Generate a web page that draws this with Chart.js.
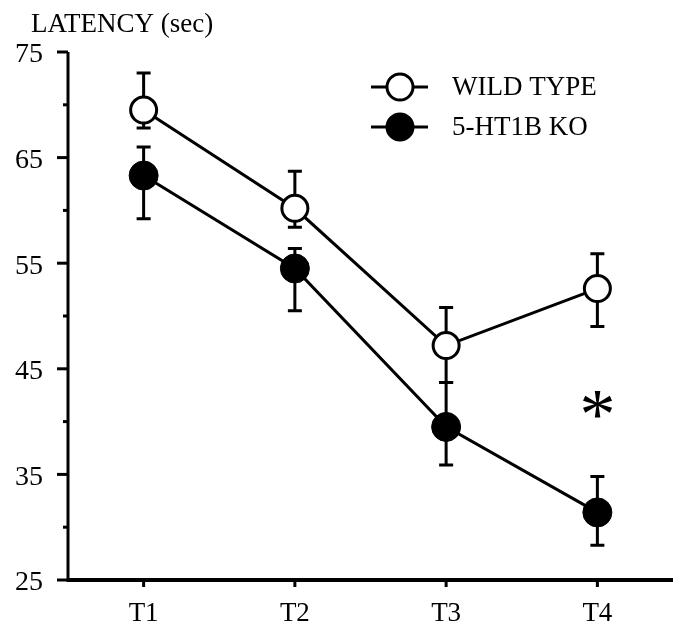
<!DOCTYPE html>
<html>
<head>
<meta charset="utf-8">
<script src="https://cdn.jsdelivr.net/npm/chart.js@4"></script>
<style>
  html, body { margin: 0; padding: 0; background: #fff; overflow: hidden; }
  canvas { display: block; }
</style>
</head>
<body>
<canvas id="latencyChart" width="673" height="625"></canvas>
<script>
// data
const categories = ['T1', 'T2', 'T3', 'T4'];
const wildType   = [69.5, 60.2, 47.2, 52.6];
const wildTypeHi = [73.0, 63.7, 50.8, 55.9];
const wildTypeLo = [67.8, 58.4, 43.7, 49.0];
const knockout   = [63.3, 54.5, 39.5, 31.4];
const knockoutHi = [66.0, 56.4, 43.7, 34.8];
const knockoutLo = [59.2, 50.5, 35.9, 28.3];
const yMajorTicks = [25, 35, 45, 55, 65, 75];
const yMinorTicks = [30, 40, 50, 60, 70];
const starCategory = 'T4';
const starValue = 41.6;

const FONT = "'Liberation Serif', 'DejaVu Serif', serif";

// draws the axes, error bars, legend, title and the asterisk
const figurePlugin = {
    id: 'figure',
    beforeDatasetsDraw(chart) {
        const ctx = chart.ctx;
        const x = chart.scales.x;
        const y = chart.scales.y;
        const area = chart.chartArea;

        ctx.save();
        ctx.strokeStyle = '#000';
        ctx.fillStyle = '#000';

        // y axis
        ctx.lineWidth = 3;
        ctx.beginPath();
        ctx.moveTo(area.left, y.getPixelForValue(75));
        ctx.lineTo(area.left, y.getPixelForValue(25) + 2);
        ctx.stroke();
        yMajorTicks.forEach(v => {
            const py = y.getPixelForValue(v);
            ctx.beginPath();
            ctx.moveTo(area.left - 11, py);
            ctx.lineTo(area.left, py);
            ctx.stroke();
        });
        yMinorTicks.forEach(v => {
            const py = y.getPixelForValue(v);
            ctx.beginPath();
            ctx.moveTo(area.left - 5, py);
            ctx.lineTo(area.left, py);
            ctx.stroke();
        });
        ctx.font = '28px ' + FONT;
        ctx.textAlign = 'right';
        ctx.textBaseline = 'middle';
        yMajorTicks.forEach(v => {
            ctx.fillText(String(v), area.left - 25, y.getPixelForValue(v) + 3);
        });

        // x axis
        const base = y.getPixelForValue(25);
        ctx.lineWidth = 4;
        ctx.beginPath();
        ctx.moveTo(area.left - 1, base);
        ctx.lineTo(chart.width, base);
        ctx.stroke();
        ctx.lineWidth = 3;
        ctx.font = '27px ' + FONT;
        ctx.textAlign = 'center';
        ctx.textBaseline = 'alphabetic';
        categories.forEach((c, i) => {
            const px = x.getPixelForValue(i);
            ctx.beginPath();
            ctx.moveTo(px, base);
            ctx.lineTo(px, base + 7);
            ctx.stroke();
            ctx.fillText(c, px, base + 41);
        });

        // error bars (under the markers)
        const bars = [[wildTypeHi, wildTypeLo], [knockoutHi, knockoutLo]];
        ctx.lineWidth = 3;
        bars.forEach(([hi, lo]) => {
            categories.forEach((c, i) => {
                const px = x.getPixelForValue(i);
                const top = y.getPixelForValue(hi[i]);
                const bot = y.getPixelForValue(lo[i]);
                ctx.beginPath();
                ctx.moveTo(px, top);
                ctx.lineTo(px, bot);
                ctx.moveTo(px - 7, top);
                ctx.lineTo(px + 7, top);
                ctx.moveTo(px - 7, bot);
                ctx.lineTo(px + 7, bot);
                ctx.stroke();
            });
        });
        ctx.restore();
    },
    afterDraw(chart) {
        const ctx = chart.ctx;
        const x = chart.scales.x;
        const y = chart.scales.y;
        ctx.save();

        // title
        ctx.fillStyle = '#000';
        ctx.font = '27px ' + FONT;
        ctx.textAlign = 'left';
        ctx.textBaseline = 'alphabetic';
        ctx.fillText('LATENCY (sec)', 31, 32);

        // legend
        const rows = [
            { label: 'WILD TYPE', y: 87, fill: '#fff' },
            { label: '5-HT1B KO', y: 127, fill: '#000' }
        ];
        rows.forEach(r => {
            ctx.strokeStyle = '#000';
            ctx.lineWidth = 3;
            ctx.beginPath();
            ctx.moveTo(371, r.y);
            ctx.lineTo(428, r.y);
            ctx.stroke();
            ctx.beginPath();
            ctx.arc(400, r.y, 13, 0, Math.PI * 2);
            ctx.fillStyle = r.fill;
            ctx.fill();
            ctx.stroke();
            ctx.fillStyle = '#000';
            ctx.textBaseline = 'middle';
            ctx.fillText(r.label, 452, r.y + 1);
        });

        // significance star
        ctx.font = '72px ' + FONT;
        ctx.textAlign = 'center';
        ctx.textBaseline = 'alphabetic';
        const m = ctx.measureText('*');
        const sx = x.getPixelForValue(categories.indexOf(starCategory));
        const sy = y.getPixelForValue(starValue);
        const shift = (m.actualBoundingBoxAscent - m.actualBoundingBoxDescent) / 2;
        ctx.fillText('*', sx, sy + shift);
        ctx.restore();
    }
};

new Chart(document.getElementById('latencyChart'), {
    type: 'line',
    data: {
        labels: categories,
        datasets: [{
            label: 'WILD TYPE',
            data: wildType,
            borderColor: '#000',
            borderWidth: 3,
            backgroundColor: '#fff',
            pointBackgroundColor: '#fff',
            pointBorderColor: '#000',
            pointBorderWidth: 3,
            pointRadius: 13,
            tension: 0
        }, {
            label: '5-HT1B KO',
            data: knockout,
            borderColor: '#000',
            borderWidth: 3,
            backgroundColor: '#000',
            pointBackgroundColor: '#000',
            pointBorderColor: '#000',
            pointBorderWidth: 1,
            pointRadius: 14.5,
            tension: 0
        }]
    },
    options: {
        responsive: false,
        animation: false,
        layout: {
            autoPadding: false, // keep the plot area exactly where the padding puts it
            padding: { left: 68, top: 52, right: 0, bottom: 45 }
        },
        plugins: {
            legend: { display: false },
            tooltip: { enabled: false }
        },
        scales: {
            x: { display: false, offset: true },
            y: { display: false, min: 25, max: 75 }
        }
    },
    plugins: [figurePlugin]
});
</script>
</body>
</html>
